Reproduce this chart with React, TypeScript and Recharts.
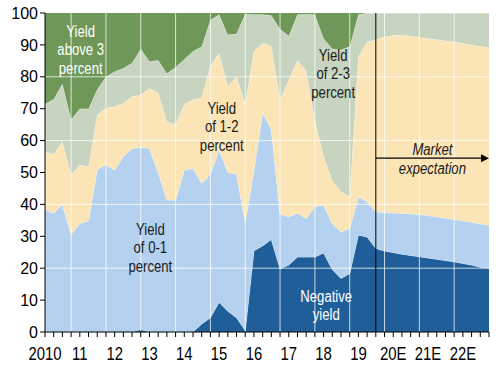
import { Area, AreaChart, ReferenceDot, ReferenceLine, XAxis, YAxis } from "recharts";

// one point per quarter, 2010Q1 .. 2022Q4 (market expectation from 2019Q3)
const negative = [
  0, 0, 0, 0, 0, 0, 0, 0, 0, 0, 0, 0.8, 0, 0, 0, 0, 0, 0, 2.5, 4.5, 9.3, 6.5, 4.5, 0.5, 25.5, 27,
  29, 19.8, 21, 23.5, 23.5, 23.5, 24.8, 19.6, 16.8, 18.3, 30.4, 29.8, 26.2, 25.4, 24.9, 24.4, 24, 23.6, 23.2, 22.8, 22.4, 22, 21.5, 21, 20.3, 20,
];
const zeroToOne = [
  38.5, 37.2, 40, 30.6, 34, 34.8, 51, 52.4, 50.8, 55, 57.6, 57, 57.6, 50, 41.4, 41.4, 50.8, 51.3, 44.1, 45, 47.9, 43.5, 45, 34, 25.3, 41.8,
  34.5, 17.2, 15.1, 13.7, 12.1, 15.8, 15, 14.4, 14.6, 14.2, 12, 11, 11.5, 12.1, 12.4, 12.8, 13.1, 13.2, 13.3, 13.3, 13.3, 13.3, 13.4, 13.4, 13.6, 13.5,
];
const oneToTwo = [
  18, 18.6, 19.7, 18.6, 18.4, 17, 17, 17.8, 19.9, 16.7, 16.2, 16.5, 18.8, 25, 24.6, 23.6, 20.7, 21.5, 26.9, 34, 30.2, 27, 30.5, 37, 37.2, 21.8,
  26, 35.8, 42.9, 48.1, 46.4, 27.2, 15.2, 13.6, 12.6, 9.9, 44, 50.2, 53.9, 55, 55.7, 55.9, 55.7, 55.6, 55.5, 55.6, 55.6, 55.7, 55.6, 55.6, 55.7, 55.7,
];
const twoToThree = [
  15, 17.2, 18.1, 17.3, 17.6, 18.2, 8, 9.8, 11, 11, 10.5, 14.4, 8.4, 10.2, 15, 18, 14, 15.2, 16, 14.3, 12.1, 16.2, 13.5, 28.2, 11.5, 8.9,
  9.7, 22.2, 13.8, 14.2, 17.6, 33, 37, 41.2, 44.5, 47.1, 13.1, 9, 8.4, 7.5, 7, 6.9, 7.2, 7.6, 8, 8.3, 8.7, 9, 9.5, 10, 10.4, 10.8,
];
const aboveThree = [
  28.5, 27, 22.2, 33.5, 30, 30, 24, 20, 18.3, 17.3, 15.7, 11.3, 15.2, 14.8, 19, 17, 14.5, 12, 10.5, 2.2, 0.5, 6.8, 6.5, 0.3, 0.5, 0.5,
  0.8, 5, 7.2, 0.5, 0.4, 0.5, 8, 11.2, 11.5, 10.5, 0.5, 0, 0, 0, 0, 0, 0, 0, 0, 0, 0, 0, 0, 0, 0, 0,
];
const yearLabels = ["2010", "11", "12", "13", "14", "15", "16", "17", "18", "19", "20E", "21E", "22E"];

const data = negative.map((v, i) => ({
  q: i,
  neg: v,
  low: zeroToOne[i],
  mid: oneToTwo[i],
  high: twoToThree[i],
  top: aboveThree[i],
}));

const quarterTicks = data.map((d) => d.q);
const yearGrid = [3, 7, 11, 15, 19, 23, 27, 31, 35, 39, 43, 47];
const font = "'Liberation Sans', Arial, sans-serif";

const notes = [
  { x: 4.1, y: 88.5, lines: ["Yield", "above 3", "percent"], color: "#ffffff" },
  { x: 20.3, y: 64.3, lines: ["Yield", "of 1-2", "percent"], color: "#1a1a1a" },
  { x: 12.1, y: 26.4, lines: ["Yield", "of 0-1", "percent"], color: "#1a1a1a" },
  { x: 33.1, y: 80.9, lines: ["Yield", "of 2-3", "percent"], color: "#1a1a1a" },
  { x: 32.3, y: 8.3, lines: ["Negative", "yield"], color: "#ffffff" },
  { x: 44.5, y: 54.2, lines: ["Market", "expectation"], color: "#1a1a1a", italic: true },
];

function noteContent(lines: string[], color: string, italic?: boolean) {
  return (props: any) => {
    const vb = props.viewBox || {};
    const cx = vb.x + (vb.width || 0) / 2;
    const cy = vb.y + (vb.height || 0) / 2;
    const lh = 18.5;
    const y0 = cy - ((lines.length - 1) * lh) / 2;
    return (
      <g>
        {lines.map((t, k) => (
          <text
            key={k}
            x={0}
            y={0}
            transform={`translate(${cx},${y0 + k * lh}) scale(0.82,1)`}
            textAnchor="middle"
            dominantBaseline="central"
            fill={color}
            fontSize={16}
            fontStyle={italic ? "italic" : "normal"}
            fontFamily={font}
          >
            {t}
          </text>
        ))}
      </g>
    );
  };
}

function QuarterTick(props: any) {
  const { x, y, payload } = props;
  if (payload.value % 4 !== 0) return null;
  return (
    <text x={0} y={0} transform={`translate(${x},${y + 15}) scale(0.85,1)`} textAnchor="middle" dominantBaseline="central" fontSize={17.5} fontFamily={font} fill="#000">
      {yearLabels[payload.value / 4]}
    </text>
  );
}

function Arrow(props: any) {
  const { x1, y1, x2, y2 } = props;
  return (
    <g>
      <line x1={x1} y1={y1} x2={x2 - 6} y2={y2} stroke="#000" strokeWidth={1.2} />
      <polygon points={`${x2},${y2} ${x2 - 8},${y2 - 4} ${x2 - 8},${y2 + 4}`} fill="#000" />
    </g>
  );
}

export default function App() {
  return (
    <div style={{ position: "absolute", left: 0, top: 0, width: 496, height: 375, background: "#fff" }}>
      <AreaChart width={496} height={375} data={data} margin={{ top: 13, right: 7, left: 0, bottom: 13 }}>
        <XAxis
          dataKey="q"
          type="number"
          domain={[0, 51]}
          ticks={quarterTicks}
          interval={0}
          height={30}
          tickSize={5}
          axisLine={{ stroke: "#000" }}
          tickLine={{ stroke: "#000" }}
          tick={<QuarterTick />}
        />
        <YAxis
          domain={[0, 100]}
          ticks={[0, 10, 20, 30, 40, 50, 60, 70, 80, 90, 100]}
          width={45}
          tickSize={5}
          axisLine={{ stroke: "#000" }}
          tickLine={{ stroke: "#000" }}
          tick={{ fill: "#000", fontSize: 16, fontFamily: font }}
        />
        <Area type="linear" dataKey="neg" stackId="s" fill="#1F5E98" fillOpacity={1} stroke="#ffffff" strokeOpacity={0.6} strokeWidth={1} isAnimationActive={false} />
        <Area type="linear" dataKey="low" stackId="s" fill="#B4D2EF" fillOpacity={1} stroke="#ffffff" strokeOpacity={0.6} strokeWidth={1} isAnimationActive={false} />
        <Area type="linear" dataKey="mid" stackId="s" fill="#FBE4B6" fillOpacity={1} stroke="#ffffff" strokeOpacity={0.6} strokeWidth={1} isAnimationActive={false} />
        <Area type="linear" dataKey="high" stackId="s" fill="#C7D4BF" fillOpacity={1} stroke="#ffffff" strokeOpacity={0.6} strokeWidth={1} isAnimationActive={false} />
        <Area type="linear" dataKey="top" stackId="s" fill="#6F9758" fillOpacity={1} stroke="none" isAnimationActive={false} />
        {[20, 40, 60, 80].map((v) => (
          <ReferenceLine key={"h" + v} y={v} stroke="#ffffff" strokeOpacity={0.75} strokeWidth={1} />
        ))}
        {yearGrid.map((v) => (
          <ReferenceLine key={"v" + v} x={v} stroke="#ffffff" strokeOpacity={0.75} strokeWidth={1} />
        ))}
        <ReferenceLine x={38} stroke="#000" strokeWidth={1} />
        <ReferenceLine segment={[{ x: 38, y: 54.5 }, { x: 51, y: 54.5 }]} shape={<Arrow />} />
        {notes.map((n, k) => (
          <ReferenceDot key={k} x={n.x} y={n.y} r={0} fill="none" stroke="none" label={noteContent(n.lines, n.color, n.italic)} />
        ))}
      </AreaChart>
    </div>
  );
}
